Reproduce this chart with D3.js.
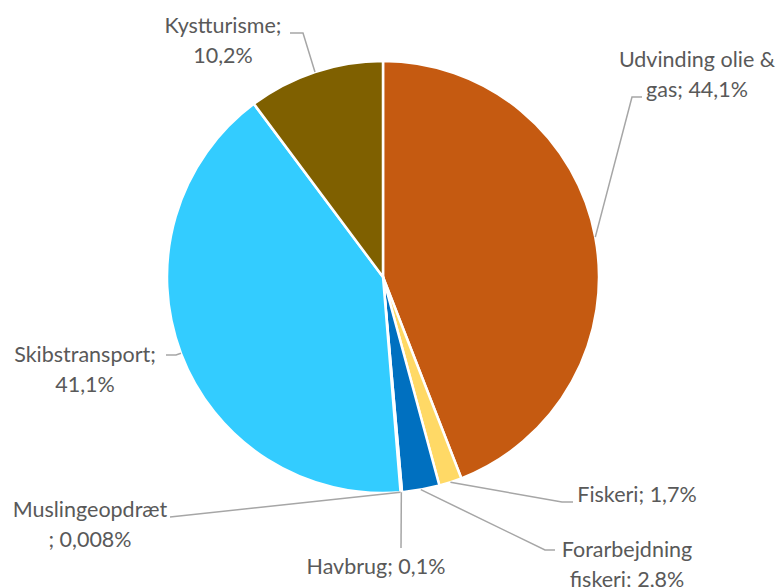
<!DOCTYPE html>
<html><head><meta charset="utf-8">
<script src="https://cdn.jsdelivr.net/npm/d3@7"></script>
<style>body{margin:0;background:#fff}</style>
</head><body>
<svg id="c" width="781" height="587"></svg>
<script>
const categories = ["Udvinding olie & gas","Fiskeri","Forarbejdning fiskeri","Havbrug","Muslingeopdræt","Skibstransport","Kystturisme"];
const values = [44.1, 1.7, 2.8, 0.1, 0.008, 41.1, 10.2];
const valueLabels = ["44,1%","1,7%","2,8%","0,1%","0,008%","41,1%","10,2%"];
const colors = ["#C55A11","#FFD966","#0070C0","#264478","#9E480E","#33CCFF","#7F6000"];
// label text lines
const labelLines = [
  ["Udvinding olie &","gas; 44,1%"],
  ["Fiskeri; 1,7%"],
  ["Forarbejdning","fiskeri; 2,8%"],
  ["Havbrug; 0,1%"],
  ["Muslingeopdræt","; 0,008%"],
  ["Skibstransport;","41,1%"],
  ["Kystturisme;","10,2%"]
];
// layout: label center x, first-line y, and leader path elbow points
const labelLayout = [
  {x:697, y:67, pts:[[632,97],[642,97]]},
  {x:637, y:502, pts:[[562,502],[573,502]]},
  {x:627, y:557, pts:[[545,550],[555,550]]},
  {x:376, y:574, pts:[[401,548]]},
  {x:90, y:517, pts:[[170,517]]},
  {x:85, y:362, pts:[[176,355],[166,355]]},
  {x:223, y:33, pts:[[303,33],[290,33]]}
];

const svg = d3.select("#c");
const cx = 383, cy = 277, r = 216;
const g = svg.append("g").attr("transform", `translate(${cx},${cy})`);
const pie = d3.pie().sort(null).value(d => d);
const arcs = pie(values);
const arc = d3.arc().innerRadius(0).outerRadius(r);

g.selectAll("path.s").data(arcs).enter().append("path")
  .attr("class","s")
  .attr("d", arc)
  .attr("fill", (d,i) => colors[i])
  .attr("stroke", "#fff")
  .attr("stroke-width", 2.5)
  .attr("stroke-linejoin","round");

// leaders
arcs.forEach((d,i) => {
  const a = (d.startAngle + d.endAngle)/2;
  const sx = cx + r*Math.sin(a), sy = cy - r*Math.cos(a);
  const pts = [[sx,sy]].concat(labelLayout[i].pts);
  svg.append("path")
    .attr("d", d3.line()(pts))
    .attr("fill","none")
    .attr("stroke","#A6A6A6")
    .attr("stroke-width",1.5);
});

// labels
labelLines.forEach((lines,i) => {
  const L = labelLayout[i];
  const t = svg.append("text")
    .attr("x", L.x).attr("y", L.y)
    .attr("text-anchor","middle")
    .attr("font-family","Lato, 'Open Sans', sans-serif")
    .attr("font-size", 21.5)
    .attr("fill","#595959");
  lines.forEach((s,j) => {
    t.append("tspan").attr("x", L.x).attr("dy", j===0 ? 0 : 30).text(s);
  });
});
</script>
</body></html>
